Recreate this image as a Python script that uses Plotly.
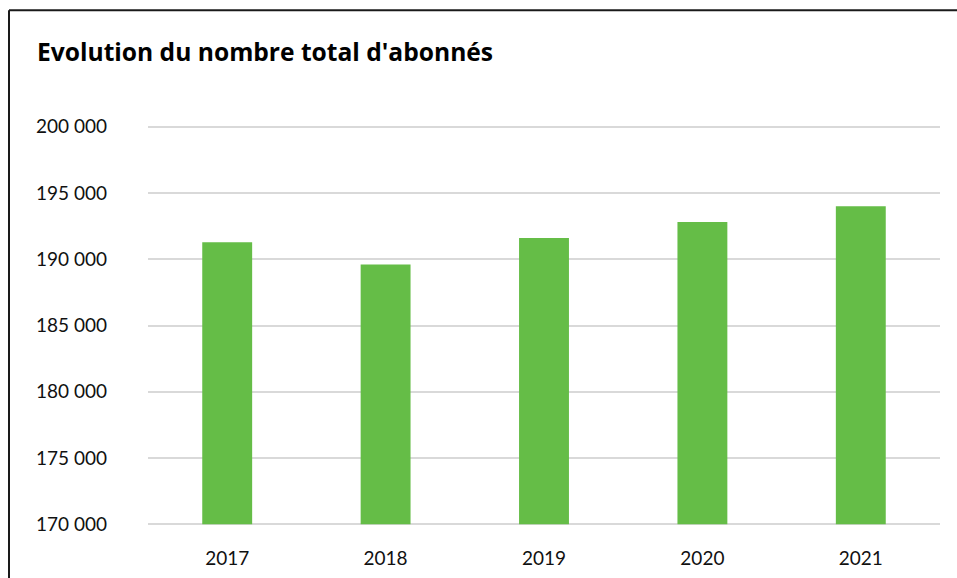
import plotly.graph_objects as go

years = ["2017", "2018", "2019", "2020", "2021"]
subscribers = [191280, 189600, 191600, 192810, 194000]
tick_values = [170000, 175000, 180000, 185000, 190000, 195000, 200000]
axis_min = 170000
title_text = "Evolution du nombre total d'abonnés"

W, H = 957, 578
y_lo, y_hi = 169800, 200200
L, R = 148, 17
T = 123.75
ph = 403.1
B = H - T - ph
pw = W - L - R

fig = go.Figure(go.Bar(
    x=years,
    y=[v - axis_min for v in subscribers],
    base=axis_min,
    customdata=subscribers,
    hovertemplate="%{x}: %{customdata:,d}<extra></extra>",
    marker=dict(color="#65BD47", line=dict(width=0)),
    width=0.315,
))

fig.update_layout(
    width=W, height=H,
    margin=dict(l=L, r=R, t=T, b=B, pad=0),
    paper_bgcolor="white", plot_bgcolor="white",
    separators=", ",
    showlegend=False,
    font=dict(family="Lato", size=19, color="#111111"),
    title=dict(text="<b>" + title_text + "</b>", xref="container", yref="container",
               x=37 / W, xanchor="left", y=1 - 52 / H, yanchor="middle",
               font=dict(family="Open Sans", size=24.6, color="#000000")),
    xaxis=dict(showgrid=False, showline=False, ticks="", ticklabelstandoff=18,
               automargin=False, tickfont=dict(size=19, color="#111111")),
    yaxis=dict(range=[y_lo, y_hi], tickvals=tick_values, tickformat=",d",
               showgrid=True, gridcolor="#D9D9D9", gridwidth=1.5,
               zeroline=False, showline=False, ticks="", ticklabelstandoff=40,
               automargin=False, tickfont=dict(size=19, color="#111111")),
    shapes=[
        dict(type="line", xref="paper", yref="paper",
             x0=(9 - L) / pw, x1=(W + 20 - L) / pw,
             y0=(H - B - 10) / ph, y1=(H - B - 10) / ph,
             line=dict(color="#1a1a1a", width=2)),
        dict(type="line", xref="paper", yref="paper",
             x0=(9 - L) / pw, x1=(9 - L) / pw,
             y0=(H - B - 10) / ph, y1=(H - B - 600) / ph,
             line=dict(color="#1a1a1a", width=2)),
    ],
)

fig.write_html(
    "out.html",
    config={"displayModeBar": False},
    post_script="document.body.style.margin='0';document.body.style.overflow='hidden';",
)
